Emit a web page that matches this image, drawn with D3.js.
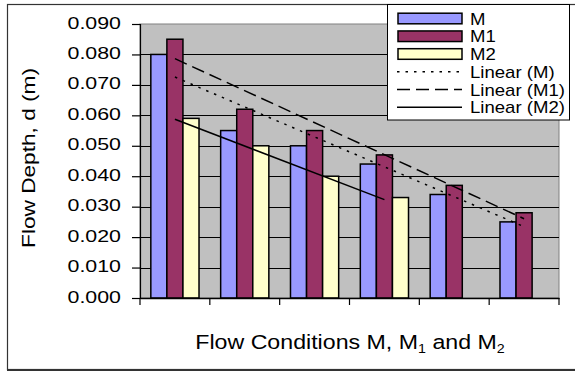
<!DOCTYPE html>
<html>
<head>
<meta charset="utf-8">
<script src="https://cdn.jsdelivr.net/npm/d3@7"></script>
<style>
  html, body { margin: 0; padding: 0; background: #fff; }
  svg { display: block; font-family: "Liberation Sans", Arial, sans-serif; }
</style>
</head>
<body>
<svg id="chart" width="575" height="372"></svg>
<script>
// Flow depth for conditions M, M1 and M2 (six test runs; M2 only has four)
const categories = ["1", "2", "3", "4", "5", "6"];
const seriesNames = ["M", "M1", "M2"];
const depthM  = [0.080, 0.055, 0.050, 0.044, 0.034, 0.025];
const depthM1 = [0.085, 0.062, 0.055, 0.047, 0.037, 0.028];
const depthM2 = [0.059, 0.050, 0.040, 0.033, null, null];
const yTickValues = [0.000, 0.010, 0.020, 0.030, 0.040, 0.050, 0.060, 0.070, 0.080, 0.090];
const trendNames = ["Linear (M)", "Linear (M1)", "Linear (M2)"];

const seriesValues = [depthM, depthM1, depthM2];
const fills = ["#9999FF", "#993366", "#FFFFCC"];
const trendDash = ["2.5,6", "13,6", null];

const svg = d3.select("#chart");
const plot = { left: 140, right: 559, top: 24, bottom: 298 };

const x = d3.scaleBand().domain(categories).range([plot.left, plot.right]).padding(0);
const barW = x.bandwidth() * 0.23;
const xInner = d3.scaleBand().domain(seriesNames)
  .range([(x.bandwidth() - 3 * barW) / 2, (x.bandwidth() + 3 * barW) / 2]).padding(0);
const y = d3.scaleLinear().domain([0, 0.09]).range([plot.bottom, plot.top]);

// horizontal stretch factor that brings a text element to a given length
function fit(sel, target) {
  const w = sel.node().getComputedTextLength();
  return target / w;
}

// chart frame
svg.append("rect").attr("x", 7.5).attr("y", 4.5).attr("width", 580).attr("height", 365)
  .attr("fill", "#fff").attr("stroke", "#333").attr("stroke-width", 1.2);
svg.append("line").attr("x1", 7).attr("x2", 575).attr("y1", 370).attr("y2", 370)
  .attr("stroke", "#333").attr("stroke-width", 2);

// plot area
svg.append("rect").attr("x", plot.left).attr("y", plot.top)
  .attr("width", plot.right - plot.left).attr("height", plot.bottom - plot.top)
  .attr("fill", "#C0C0C0").attr("stroke", "#808080").attr("stroke-width", 1);

// gridlines
svg.append("g").selectAll("line")
  .data(yTickValues.filter(v => v > 0 && v < 0.09))
  .join("line")
  .attr("x1", plot.left).attr("x2", plot.right)
  .attr("y1", d => Math.round(y(d)) + 0.5).attr("y2", d => Math.round(y(d)) + 0.5)
  .attr("stroke", "#000").attr("stroke-width", 1);

// bars
const groups = svg.append("g").selectAll("g")
  .data(categories)
  .join("g")
  .attr("transform", d => `translate(${x(d)},0)`);
groups.selectAll("rect")
  .data((c, i) => seriesNames.map((s, k) => ({ s, k, v: seriesValues[k][i] })).filter(d => d.v != null))
  .join("rect")
  .attr("x", d => xInner(d.s))
  .attr("width", xInner.bandwidth())
  .attr("y", d => y(d.v))
  .attr("height", d => y(0) - y(d.v))
  .attr("fill", d => fills[d.k])
  .attr("stroke", "#000").attr("stroke-width", 1.5);

// y axis
const yAxis = svg.append("g").attr("transform", `translate(${plot.left},0)`)
  .call(d3.axisLeft(y).tickValues(yTickValues).tickSize(8).tickFormat(""));
yAxis.select(".domain").attr("stroke", "#000").attr("stroke-width", 1.2);
yAxis.selectAll(".tick line").attr("stroke", "#000").attr("stroke-width", 1.2);

const tickLabels = svg.append("g").selectAll("text")
  .data(yTickValues)
  .join("text")
  .attr("text-anchor", "end")
  .attr("font-size", 17)
  .attr("fill", "#000")
  .text(d => d3.format(".3f")(d));
const kTick = fit(tickLabels.filter((d, i) => i === 9), 53.5);
tickLabels.attr("transform", d => `translate(121,${y(d) + 4.5}) scale(${kTick},1)`);

// x axis with ticks between categories
const xAxis = svg.append("g").attr("transform", `translate(0,${plot.bottom})`)
  .call(d3.axisBottom(x).tickSizeOuter(0).tickSize(0).tickFormat(""));
xAxis.select(".domain").attr("stroke", "#000").attr("stroke-width", 1.5);
svg.append("g").selectAll("line")
  .data(categories.concat(["end"]))
  .join("line")
  .attr("x1", d => d === "end" ? plot.right : x(d))
  .attr("x2", d => d === "end" ? plot.right : x(d))
  .attr("y1", plot.bottom).attr("y2", plot.bottom + 7)
  .attr("stroke", "#000").attr("stroke-width", 1.2);

// linear trend lines (least squares on category index)
function trend(values) {
  const pts = values.map((v, i) => [i + 1, v]).filter(p => p[1] != null);
  const mx = d3.mean(pts, p => p[0]), my = d3.mean(pts, p => p[1]);
  const b = d3.sum(pts, p => (p[0] - mx) * (p[1] - my)) / d3.sum(pts, p => (p[0] - mx) ** 2);
  const a = my - b * mx;
  const first = pts[0][0], last = pts[pts.length - 1][0];
  return [[first, a + b * first], [last, a + b * last]];
}
const cx = i => x(categories[i - 1]) + x.bandwidth() / 2;
seriesValues.forEach((vals, k) => {
  const t = trend(vals);
  svg.append("line")
    .attr("x1", cx(t[0][0])).attr("y1", y(t[0][1]))
    .attr("x2", cx(t[1][0])).attr("y2", y(t[1][1]))
    .attr("stroke", "#000").attr("stroke-width", 1.5)
    .attr("stroke-dasharray", trendDash[k]);
});

// axis titles
const yTitle = svg.append("text")
  .attr("text-anchor", "middle").attr("font-size", 19).attr("fill", "#000")
  .text("Flow Depth, d (m)");
const kY = fit(yTitle, 180);
yTitle.attr("transform", `translate(35,158) rotate(-90) scale(${kY},1)`);

const xTitle = svg.append("text")
  .attr("text-anchor", "middle").attr("font-size", 19.5).attr("fill", "#000");
xTitle.append("tspan").text("Flow Conditions M, M");
xTitle.append("tspan").attr("font-size", 12).attr("dy", 4).text("1");
xTitle.append("tspan").attr("dy", -4).text(" and M");
xTitle.append("tspan").attr("font-size", 12).attr("dy", 4).text("2");
const kX = 310 / xTitle.node().getBBox().width;
xTitle.attr("transform", `translate(350,349) scale(${kX},1)`);

// legend
const leg = svg.append("g");
leg.append("rect").attr("x", 387.5).attr("y", 4.5).attr("width", 182).attr("height", 115.5)
  .attr("fill", "#fff").attr("stroke", "#000").attr("stroke-width", 1);
const rowY = i => 18.5 + i * 17.75;
seriesNames.forEach((s, i) => {
  leg.append("rect").attr("x", 398).attr("y", rowY(i) - 5.3).attr("width", 64).attr("height", 10.6)
    .attr("fill", fills[i]).attr("stroke", "#000").attr("stroke-width", 1.5);
});
trendNames.forEach((s, i) => {
  leg.append("line").attr("x1", 397).attr("x2", 462)
    .attr("y1", rowY(i + 3)).attr("y2", rowY(i + 3))
    .attr("stroke", "#000").attr("stroke-width", 1.5)
    .attr("stroke-dasharray", trendDash[i]);
});
const legLabels = leg.selectAll("text.lab")
  .data(seriesNames.concat(trendNames))
  .join("text")
  .attr("class", "lab")
  .attr("font-size", 17).attr("fill", "#000")
  .text(d => d);
const kLeg = fit(legLabels.filter((d, i) => i === 4), 95);
legLabels.attr("transform", (d, i) => `translate(470,${rowY(i) + 6}) scale(${kLeg},1)`);
</script>
</body>
</html>
